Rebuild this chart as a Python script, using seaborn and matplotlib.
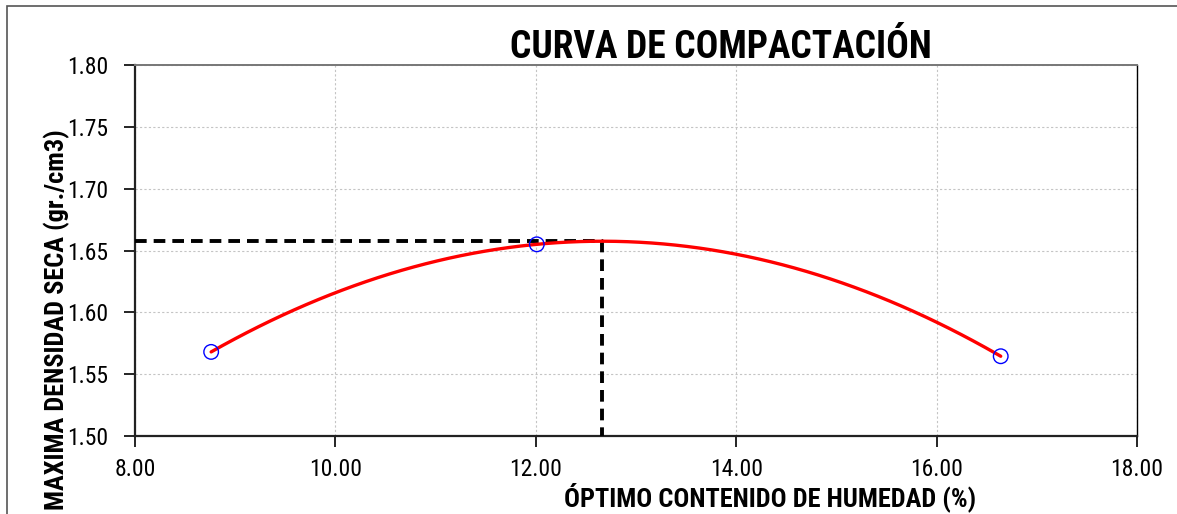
import numpy as np
import pandas as pd
import matplotlib
matplotlib.use("Agg")
import matplotlib.pyplot as plt
import seaborn as sns
from matplotlib.patches import Rectangle

# Data
humedad = [8.76, 12.01, 16.64]        # % contenido de humedad
densidad = [1.568, 1.655, 1.5645]     # gr/cm3
x_ticks = [8.0, 10.0, 12.0, 14.0, 16.0, 18.0]
y_ticks = [1.50, 1.55, 1.60, 1.65, 1.70, 1.75, 1.80]
title = "CURVA DE COMPACTACIÓN"
xlabel = "ÓPTIMO CONTENIDO DE HUMEDAD (%)"
ylabel = "MAXIMA DENSIDAD SECA (gr./cm3)"

sns.set_theme(style="white")
plt.rcParams['font.family'] = ['Roboto Condensed', 'Liberation Sans', 'DejaVu Sans']

df = pd.DataFrame({"w": humedad, "d": densidad})

# polynomial (2nd order) trendline through the measured points
coef = np.polyfit(df["w"], df["d"], 2)
xs = np.linspace(min(humedad), max(humedad), 200)
trend = pd.DataFrame({"w": xs, "d": np.polyval(coef, xs)})
w_opt = -coef[1] / (2 * coef[0])
d_max = np.polyval(coef, w_opt)

fig = plt.figure(figsize=(11.77, 5.14), dpi=100)
ax = fig.add_axes([135/1177, 1 - 436/514, (1137-135)/1177, (436-65)/514])

ax.grid(True, color="#c4c4c4", linestyle=(0, (2, 2)), linewidth=0.8)
ax.set_axisbelow(True)

# dashed guide lines to the optimum
ax.plot([x_ticks[0], w_opt, w_opt], [d_max, d_max, y_ticks[0]],
        color="black", linestyle=(0, (3, 1.8)), linewidth=2.8, zorder=3)

sns.lineplot(data=trend, x="w", y="d", ax=ax, color="red", linewidth=2.4,
             zorder=4, sort=True, estimator=None)
sns.scatterplot(data=df, x="w", y="d", ax=ax, marker="o", s=110,
                facecolors="none", edgecolor="blue", linewidth=1.0, zorder=5)

ax.set_xlim(x_ticks[0], x_ticks[-1])
ax.set_ylim(y_ticks[0], y_ticks[-1])
ax.set_xticks(x_ticks)
ax.set_yticks(y_ticks)
ax.set_xticklabels([f"{v:.2f}" for v in x_ticks], fontsize=17)
ax.set_yticklabels([f"{v:.2f}" for v in y_ticks], fontsize=17)
ax.tick_params(axis="both", direction="out", length=8, width=1.2, color="black",
               left=True, bottom=True, labelcolor="black")
ax.tick_params(axis="x", pad=8)
ax.tick_params(axis="y", pad=11)

for s in ["left", "bottom"]:
    ax.spines[s].set_color("#222222")
    ax.spines[s].set_linewidth(1.6)
ax.spines["top"].set_color("#777777")
ax.spines["top"].set_linewidth(1.4)
ax.spines["right"].set_color("black")
ax.spines["right"].set_linewidth(1.0)

ax.set_xlabel("")
ax.set_ylabel("")
fig.text(770/1177, 1 - 497/514, xlabel, ha="center", va="center",
         fontsize=19, fontweight="bold", color="black")
fig.text(57/1177, 1 - 320/514, ylabel, ha="center", va="center",
         rotation=90, fontsize=19, fontweight="bold", color="black")
fig.text(721/1177, 1 - 47/514, title, ha="center", va="center",
         fontsize=27, fontweight="bold", color="black", zorder=10)

fig.patches.append(Rectangle((7/1177, -0.01), 1.1, 1 - 6/514 + 0.01,
                             transform=fig.transFigure, fill=False,
                             edgecolor="#555555", linewidth=1.2))

fig.savefig("out.png", dpi=100)
